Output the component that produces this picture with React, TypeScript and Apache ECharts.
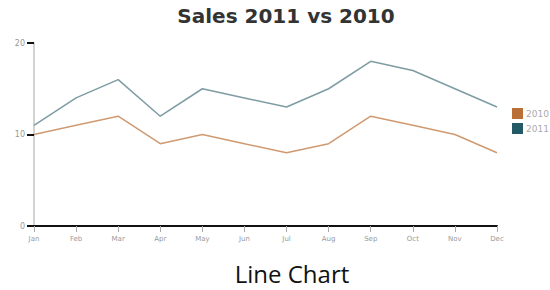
import React, { useEffect, useRef } from "react";
import * as echarts from "echarts";

const months = ["Jan", "Feb", "Mar", "Apr", "May", "Jun", "Jul", "Aug", "Sep", "Oct", "Nov", "Dec"];
const sales2010 = [10, 11, 12, 9, 10, 9, 8, 9, 12, 11, 10, 8];
const sales2011 = [11, 14, 16, 12, 15, 14, 13, 15, 18, 17, 15, 13];
const seriesNames = ["2010", "2011"];
const legendColors = ["#b96f35", "#245a66"];
const lineColors = ["#cf9a72", "#7e9ca3"];

export default function App() {
  const ref = useRef<HTMLDivElement>(null);
  useEffect(() => {
    const chart = echarts.init(ref.current!, null, { renderer: "svg" });
    chart.setOption({
      animation: false,
      backgroundColor: "#ffffff",
      title: [
        {
          text: "Sales 2011 vs 2010",
          left: 281,
          textAlign: "center",
          top: 1,
          textStyle: { fontFamily: "DejaVu Sans", fontWeight: "bold", fontSize: 20, color: "#333333" },
        },
        {
          text: "Line Chart",
          left: 287,
          textAlign: "center",
          top: 256,
          textStyle: { fontFamily: "Open Sans", fontWeight: "normal", fontSize: 24, color: "#111111" },
        },
      ],
      legend: {
        orient: "vertical",
        left: 507,
        top: 103,
        itemWidth: 11,
        itemHeight: 11,
        itemGap: 4,
        icon: "rect",
        textStyle: { fontFamily: "DejaVu Sans", fontSize: 9, color: "#aaaaaa", padding: [0, 0, 0, -2] },
        data: seriesNames.map((n, i) => ({ name: n, itemStyle: { color: legendColors[i] } })),
      },
      grid: { left: 34, right: 53, top: 43, bottom: 64, containLabel: false },
      xAxis: {
        type: "category",
        data: months,
        boundaryGap: false,
        axisLine: { lineStyle: { color: "#111111", width: 2 } },
        axisTick: { show: true, length: 6, lineStyle: { color: "#aaaaaa" } },
        axisLabel: { fontFamily: "DejaVu Sans", fontSize: 7, color: "#999999", margin: 9 },
        splitLine: { show: false },
      },
      yAxis: {
        type: "value",
        min: 0,
        max: 20,
        interval: 10,
        axisLine: { show: true, lineStyle: { color: "#c4c4c4", width: 1.5 } },
        axisTick: { show: true, length: 7, lineStyle: { color: "#111111", width: 2 } },
        axisLabel: { fontFamily: "DejaVu Sans", fontSize: 8, color: "#999999", margin: 9 },
        splitLine: { show: false },
      },
      series: [
        {
          name: seriesNames[0],
          type: "line",
          data: sales2010,
          symbol: "none",
          color: legendColors[0],
          lineStyle: { color: lineColors[0], width: 1.5 },
        },
        {
          name: seriesNames[1],
          type: "line",
          data: sales2011,
          symbol: "none",
          color: legendColors[1],
          lineStyle: { color: lineColors[1], width: 1.5 },
        },
      ],
    });
    return () => chart.dispose();
  }, []);
  return <div ref={ref} style={{ width: 550, height: 290, position: "absolute", left: 0, top: 0 }} />;
}
